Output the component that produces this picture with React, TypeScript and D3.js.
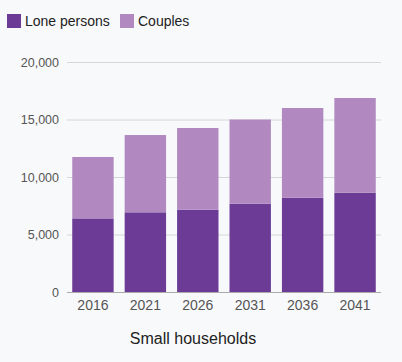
import { axisLeft, scaleBand, scaleLinear, select, stack } from "d3";
import React, { useLayoutEffect, useRef } from "react";

const years = ["2016", "2021", "2026", "2031", "2036", "2041"];
const lonePersons = [6400, 6930, 7160, 7680, 8200, 8630];
const couples = [5340, 6720, 7100, 7320, 7800, 8240];
const seriesNames = ["Lone persons", "Couples"];
const colors = ["#6b3b96", "#b189c0"];
const yTicks = [0, 5000, 10000, 15000, 20000];

const W = 402;
const H = 362;
const margin = { top: 62, right: 21, bottom: 70, left: 67 };

const App: React.FC = () => {
  const ref = useRef<SVGSVGElement>(null);

  useLayoutEffect(() => {
    const svg = select(ref.current);
    const font = "'Liberation Sans', Arial, sans-serif";

    const x = scaleBand<string>()
      .domain(years)
      .range([margin.left, W - margin.right])
      .paddingInner(0.21)
      .paddingOuter(0.1);
    const y = scaleLinear()
      .domain([0, 20000])
      .range([H - margin.bottom, margin.top]);

    svg.append("rect").attr("width", W).attr("height", H).attr("fill", "#f8f9fb");

    // grid + y labels
    const yAxis = svg
      .append("g")
      .attr("transform", `translate(${margin.left},0)`)
      .call(
        axisLeft(y)
          .tickValues(yTicks)
          .tickSize(-(W - margin.left - margin.right))
          .tickPadding(8)
          .tickFormat((d) => (d as number).toLocaleString("en-US"))
      );
    yAxis.select(".domain").remove();
    yAxis.selectAll("line").attr("stroke", "#d6d6d9");
    yAxis
      .selectAll("text")
      .attr("fill", "#555")
      .style("font-family", font)
      .style("font-size", "12.5px");

    const rows = years.map((yr, i) => ({
      year: yr,
      "Lone persons": lonePersons[i],
      Couples: couples[i],
    }));
    const stacked = stack<any>().keys(seriesNames)(rows);

    svg
      .append("g")
      .selectAll("g")
      .data(stacked)
      .enter()
      .append("g")
      .attr("fill", (_, i) => colors[i])
      .selectAll("rect")
      .data((d) => d)
      .enter()
      .append("rect")
      .attr("x", (d) => x(d.data.year) as number)
      .attr("width", x.bandwidth())
      .attr("y", (d) => y(d[1]))
      .attr("height", (d) => y(d[0]) - y(d[1]));

    // baseline
    svg
      .append("line")
      .attr("x1", margin.left)
      .attr("x2", W - margin.right)
      .attr("y1", y(0) + 0.5)
      .attr("y2", y(0) + 0.5)
      .attr("stroke", "#aaa");

    // x labels
    svg
      .append("g")
      .selectAll("text")
      .data(years)
      .enter()
      .append("text")
      .attr("x", (d) => (x(d) as number) + x.bandwidth() / 2)
      .attr("y", y(0) + 18)
      .attr("text-anchor", "middle")
      .attr("fill", "#555")
      .style("font-family", font)
      .style("font-size", "14px")
      .text((d) => d);

    svg
      .append("text")
      .attr("x", 193)
      .attr("y", 344)
      .attr("text-anchor", "middle")
      .attr("fill", "#222")
      .style("font-family", font)
      .style("font-size", "16px")
      .text("Small households");

    // legend
    const legendX = [7, 120];
    const legend = svg
      .append("g")
      .selectAll("g")
      .data(seriesNames)
      .enter()
      .append("g")
      .attr("transform", (_, i) => `translate(${legendX[i]},14)`);
    legend
      .append("rect")
      .attr("width", 14)
      .attr("height", 14)
      .attr("fill", (_, i) => colors[i]);
    legend
      .append("text")
      .attr("x", 18)
      .attr("y", 12)
      .attr("fill", "#222")
      .style("font-family", font)
      .style("font-size", "14px")
      .text((d) => d);

    return () => {
      svg.selectAll("*").remove();
    };
  }, []);

  return (
    <svg
      ref={ref}
      width={W}
      height={H}
      style={{ position: "absolute", left: 0, top: 0, display: "block" }}
    />
  );
};

export default App;
